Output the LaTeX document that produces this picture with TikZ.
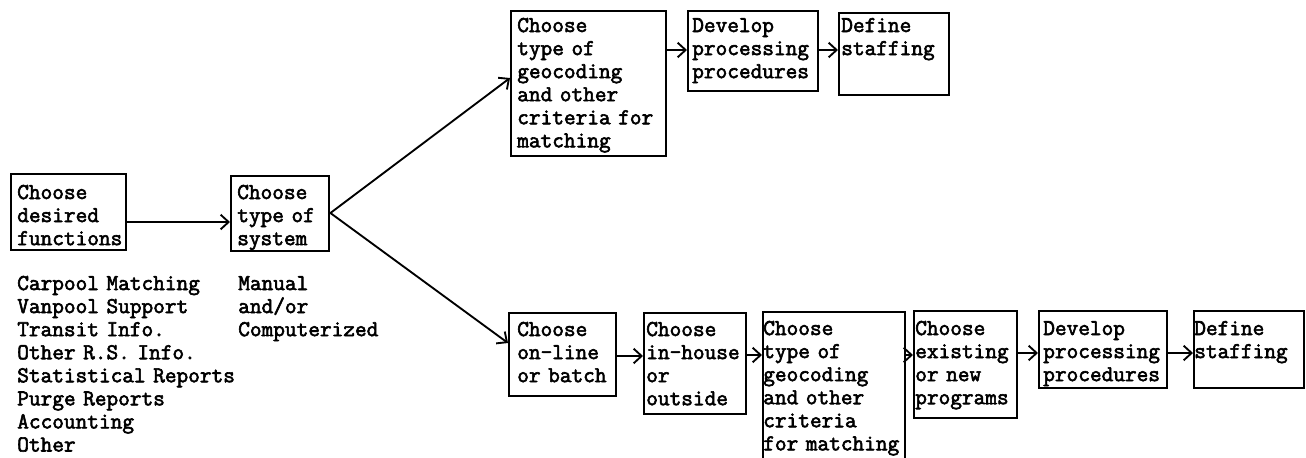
\documentclass[tikz,border=0pt]{standalone}
\usepackage{fontspec}
\usetikzlibrary{arrows.meta,calc}
\setmonofont{Latin Modern Mono}[FakeBold=2.6]

% box from (x1,y1) to (x2,y2) in pixels, y down; text starts at (tx, first baseline)
\newcommand\flowbox[8]{%
  \node[box, anchor=north west,
        minimum width={(#4-#2)*0.75pt}, minimum height={(#5-#3)*0.75pt}] (#1) at (#2,#3) {};
  \node[lbl, anchor=base west, text width={(#4-#6)*0.75pt}] (#1-text) at (#6,#7) {#8};
}

\tikzset{
  box/.style={draw, line width=1.8pt, inner sep=0pt, rectangle},
  lbl/.style={inner sep=0pt, align=left,
              font={\ttfamily\fontsize{17pt}{17.3pt}\selectfont}},
  arr/.style={line width=1.4pt,
              -{Straight Barb[length=6pt, width=11pt, line width=1.4pt]}},
}

\begin{document}
\begin{tikzpicture}[x=0.75pt, y=-0.75pt]
  \useasboundingbox (0,0) rectangle (1306,457);
  \clip (0,0) rectangle (1306,457);

  % first stage
  \flowbox{A}{10}{173}{125}{249}{17}{199}{Choose\\desired\\functions}
  \flowbox{B}{230}{175}{328}{250}{237}{199}{Choose\\type of\\system}

  \node[lbl, anchor=base west, text width=180pt] (funcs) at (17,290)
    {Carpool Matching\\Vanpool Support\\Transit Info.\\Other R.S. Info.\\Statistical Reports\\Purge Reports\\Accounting\\Other};
  \node[lbl, anchor=base west, text width=110pt] (kinds) at (238,290)
    {Manual\\and/or\\Computerized};

  % manual branch
  \flowbox{C}{510}{10}{665}{155}{517}{32}{Choose\\type of\\geocoding\\and other\\criteria for\\matching}
  \flowbox{J}{687}{10}{817}{90}{692}{32}{Develop\\processing\\procedures}
  \flowbox{K}{838}{12}{948}{94}{841}{32}{Define\\staffing}

  % computerized branch
  \flowbox{D}{508}{312}{615}{395}{517}{336}{Choose\\on-line\\or batch}
  \flowbox{E}{643}{312}{745}{413}{646}{336}{Choose\\in-house\\or\\outside}
  \flowbox{F}{762}{311}{904}{475}{763}{335}{Choose\\type of\\geocoding\\and other\\criteria\\for matching}
  \flowbox{G}{913}{310}{1016}{417}{915}{335}{Choose\\existing\\or new\\programs}
  \flowbox{H}{1038}{310}{1166}{387}{1043}{335}{Develop\\processing\\procedures}
  \flowbox{I}{1193}{310}{1303}{387}{1194}{335}{Define\\staffing}

  % connectors
  \draw[arr] ($(A.north east)+(0,49)$) -- ($(B.north west)+(0,47)$);
  \coordinate (fork) at ($(B.north east)+(0,38)$);
  \draw[arr] (fork) -- ($(C.north west)+(0,68)$);
  \draw[arr] (fork) -- ($(D.north west)+(0,31)$);
  \draw[arr] ($(C.north east)+(0,40)$) -- ($(J.north west)+(0,40)$);
  \draw[arr] ($(J.north east)+(0,40)$) -- ($(K.north west)+(0,38)$);
  \draw[arr] ($(D.north east)+(0,44)$) -- ($(E.north west)+(0,44)$);
  \draw[arr] ($(E.north east)+(0,43)$) -- ($(F.north west)+(0,44)$);
  \draw[arr] ($(F.north east)+(0,44)$) -- ($(G.north west)+(0,45)$);
  \draw[arr] ($(G.north east)+(0,43)$) -- ($(H.north west)+(0,43)$);
  \draw[arr] ($(H.north east)+(0,43)$) -- ($(I.north west)+(0,43)$);
\end{tikzpicture}
\end{document}
